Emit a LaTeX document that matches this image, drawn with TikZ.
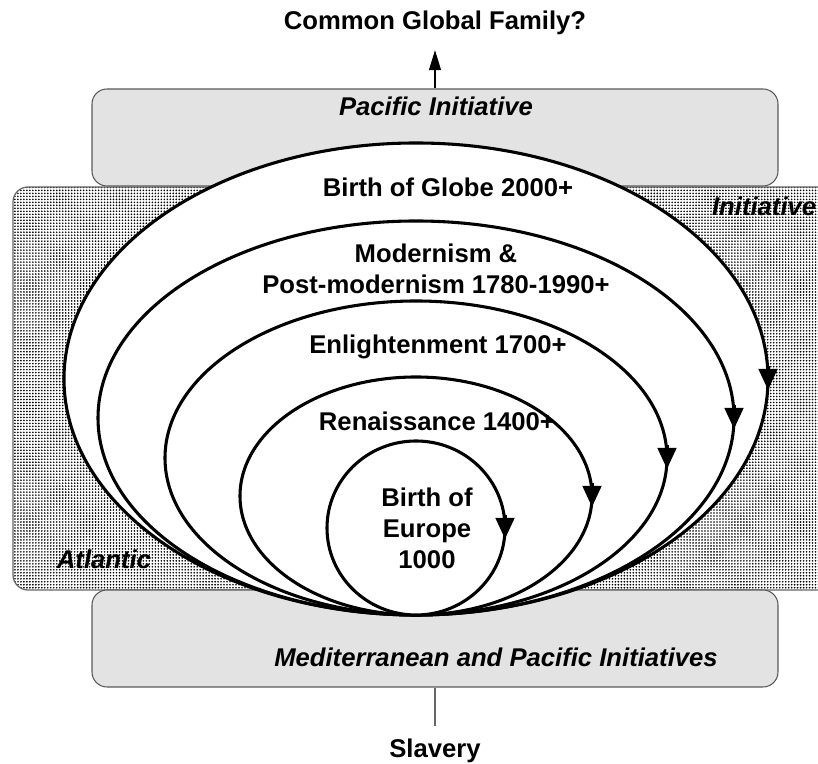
\documentclass[tikz,border=0pt]{standalone}
\usepackage{fontspec}
\setmainfont{Liberation Sans}
\usepackage{tikz}
\usetikzlibrary{shapes.geometric, arrows.meta, patterns, positioning}

% fine black dots on white for the Atlantic panel
\pgfdeclarepatternformonly{finedots}{\pgfqpoint{-1pt}{-1pt}}{\pgfqpoint{1pt}{1pt}}{\pgfqpoint{1.7pt}{1.7pt}}{%
  \pgfpathcircle{\pgfqpoint{0pt}{0pt}}{0.52pt}\pgfusepath{fill}}

\newcommand{\lblfont}{\fontsize{14.6}{17.7}\selectfont\bfseries}

\tikzstyle{panel} = [rectangle, rounded corners=0.3cm, minimum width=13.72cm, minimum height=1.94cm, draw=black!65, fill=black!11, line width=0.6pt]
\tikzstyle{ocean} = [rectangle, rounded corners=0.3cm, minimum width=16.54cm, minimum height=8.06cm, draw=black!60, line width=0.7pt, preaction={fill=white}, pattern=finedots]
\tikzstyle{era} = [ellipse, draw=black, fill=white, line width=1.75pt, inner sep=0pt, outer sep=0pt, anchor=south]
\tikzstyle{title} = [font=\lblfont, inner sep=0pt, anchor=base]
\tikzstyle{place} = [font=\lblfont\itshape, inner sep=0pt, anchor=base]
\tikzstyle{turn} = [line width=1.75pt, -{Triangle[width=0.37cm,length=0.42cm]}]
\tikzstyle{arrow} = [line width=0.6pt, -{Triangle[width=0.24cm,length=0.40cm]}]
\tikzstyle{line} = [line width=0.8pt, draw=black!60]

\begin{document}
\begin{tikzpicture}

\useasboundingbox (0,0) rectangle (16.36,15.28);

% panels
\node (pacific) [panel] at (8.70,12.53) {};
\node (ocean) [ocean] at (8.53,7.51) {};
\node (med) [panel] at (8.70,2.51) {};

\node (pacifictxt) [place] at (8.72,12.96) {Pacific Initiative};
\node (medtxt) [place] at (9.92,1.94) {Mediterranean and Pacific Initiatives};
\node (atlantic) [place] at (2.08,3.90) {Atlantic};
\node (initiative) [place, anchor=base east] at (16.33,10.96) {Initiative};

% eras, all touching at one point
\coordinate (base) at (8.32,2.98);
\node (globe) [era, minimum width=14.08cm, minimum height=9.44cm] at (base) {};
\node (modern) [era, minimum width=12.72cm, minimum height=7.88cm] at (base) {};
\node (enlight) [era, minimum width=10.04cm, minimum height=6.28cm] at (base) {};
\node (renais) [era, minimum width=7.04cm, minimum height=4.76cm] at (base) {};
\node (europe) [era, minimum width=3.56cm, minimum height=3.48cm] at (base) {};

\foreach \e in {globe, modern, enlight, renais, europe}
  \draw [turn] ([yshift=0.25cm]\e.east) -- ([yshift=-0.22cm]\e.east);

\node (globelbl) [title] at (8.96,11.34) {Birth of Globe 2000+};
\node (modernlbl) [title, anchor=center, align=center] at (8.72,9.90) {Modernism \&\\Post-modernism 1780-1990+};
\node (enlightlbl) [title] at (8.76,8.20) {Enlightenment 1700+};
\node (renaislbl) [title] at (8.74,6.66) {Renaissance 1400+};
\node (europelbl) [title, anchor=center, align=center] at (8.54,4.71) {Birth of\\Europe\\1000};

% where it leads and where it started
\node (family) [title] at (8.70,14.68) {Common Global Family?};
\node (slavery) [title] at (8.70,0.12) {Slavery};

\draw [arrow, shorten >=0.29cm] (pacific.north) -- (family.south);
\draw [line, shorten >=0.265cm] (med.south) -- (slavery.north);

\end{tikzpicture}
\end{document}
